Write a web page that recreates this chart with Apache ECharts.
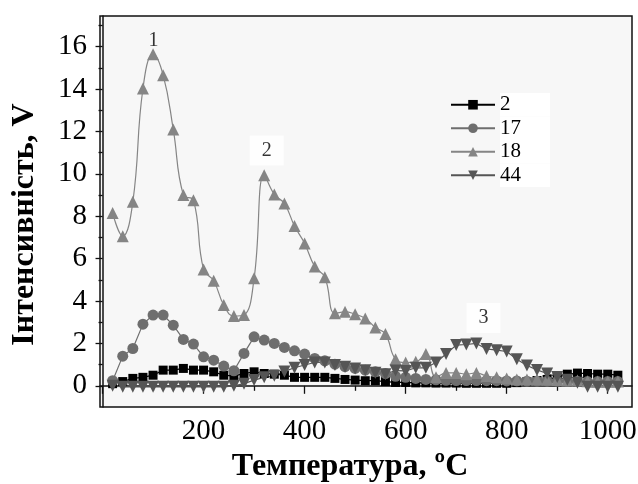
<!DOCTYPE html>
<html>
<head>
<meta charset="utf-8">
<script src="https://cdn.jsdelivr.net/npm/echarts@6/dist/echarts.min.js"></script>
<style>
  html, body { margin: 0; padding: 0; background: #ffffff; }
  #chart { width: 638px; height: 484px; }
</style>
</head>
<body>
<div id="chart"></div>
<script>
// Temperature grid, °C
const temps = [20, 40, 60, 80, 100, 120, 140, 160, 180, 200, 220, 240, 260, 280, 300, 320, 340, 360, 380, 400,
  420, 440, 460, 480, 500, 520, 540, 560, 580, 600, 620, 640, 660, 680, 700, 720, 740, 760, 780, 800,
  820, 840, 860, 880, 900, 920, 940, 960, 980, 1000, 1020];

// Signal intensity, V, per mass number
const m2 = [0.1, 0.2, 0.35, 0.4, 0.5, 0.74, 0.74, 0.82, 0.74, 0.74, 0.66, 0.5, 0.46, 0.58, 0.66, 0.58, 0.55, 0.5, 0.4, 0.4,
  0.4, 0.4, 0.35, 0.3, 0.27, 0.24, 0.24, 0.2, 0.16, 0.16, 0.14, 0.14, 0.13, 0.13, 0.13, 0.12, 0.12, 0.12, 0.12, 0.12,
  0.15, 0.2, 0.25, 0.3, 0.4, 0.55, 0.6, 0.58, 0.55, 0.55, 0.5];
const m17 = [0.24, 1.4, 1.76, 2.91, 3.34, 3.34, 2.86, 2.19, 1.97, 1.37, 1.21, 0.93, 0.71, 1.53, 2.31, 2.16, 2.0, 1.81, 1.65, 1.5,
  1.29, 1.18, 1.02, 0.9, 0.82, 0.74, 0.66, 0.58, 0.45, 0.4, 0.35, 0.3, 0.28, 0.26, 0.25, 0.25, 0.25, 0.24, 0.24, 0.23,
  0.23, 0.22, 0.22, 0.22, 0.21, 0.21, 0.2, 0.2, 0.2, 0.2, 0.2];
const m18 = [8.15, 7.06, 8.68, 14.03, 15.65, 14.66, 12.1, 9.0, 8.76, 5.49, 4.96, 3.81, 3.29, 3.34, 5.07, 9.94, 9.03, 8.6, 7.54, 6.72,
  5.63, 5.12, 3.42, 3.49, 3.38, 3.18, 2.75, 2.44, 1.25, 1.1, 1.13, 1.5, 0.4, 0.61, 0.61, 0.55, 0.61, 0.46, 0.4, 0.35,
  0.3, 0.3, 0.3, 0.28, 0.27, 0.25, 0.25, 0.22, 0.2, 0.2, 0.2];
const m44 = [0.0, -0.05, -0.05, -0.05, -0.05, -0.05, -0.05, -0.05, -0.05, -0.05, -0.05, -0.05, 0.0, 0.1, 0.27, 0.4, 0.47, 0.68, 0.85, 0.98,
  1.1, 1.1, 0.98, 0.9, 0.82, 0.74, 0.62, 0.55, 0.72, 0.7, 0.85, 0.85, 1.1, 1.5, 1.92, 1.95, 2.0, 1.74, 1.68, 1.62,
  1.25, 0.96, 0.75, 0.58, 0.42, 0.28, 0.15, -0.05, -0.05, -0.05, -0.05];

// Axis ticks
const xMajorTicks = [0, 200, 400, 600, 800, 1000];
const xMinorTicks = [100, 300, 500, 700, 900];
const xTickLabels = [200, 400, 600, 800, 1000];
const yMajorTicks = [0, 2, 4, 6, 8, 10, 12, 14, 16];
const yMinorTicks = [1, 3, 5, 7, 9, 11, 13, 15, 17];

// Peak numbers
const peakText = ['1', '2', '3'];
const peakX = [101, 325, 754];
const peakY = [16.3, 11.1, 3.2];
const peakBoxed = [false, true, true];

const pairs = (ys) => temps.map((t, i) => [t, ys[i]]);

const serif = '"Liberation Serif", "Times New Roman", serif';
const X_MIN = -5, X_MAX = 1048, Y_MIN = -1, Y_MAX = 17.45;

const chart = echarts.init(document.getElementById('chart'), null, { renderer: 'canvas' });

function lineSeries(name, ys, color, symbol, size, extra) {
  return Object.assign({
    name: name,
    type: 'line',
    data: pairs(ys),
    symbol: symbol,
    symbolSize: size,
    lineStyle: { color: color, width: 1.2 },
    itemStyle: { color: color },
    animation: false
  }, extra || {});
}

const plainNum = (v) => String(v);

chart.setOption({
  backgroundColor: '#ffffff',
  animation: false,
  grid: {
    left: 100, right: 6, top: 16, bottom: 77,
    outerBoundsMode: 'none',
    containLabel: false,
    show: true,
    backgroundColor: '#f7f7f7',
    borderColor: '#111',
    borderWidth: 1.5
  },
  legend: {
    orient: 'vertical',
    left: 445, top: 88,
    itemWidth: 44, itemHeight: 12,
    itemGap: 0,
    data: ['2', '17', '18', '44'],
    textStyle: {
      fontFamily: serif, fontSize: 21, color: '#000',
      lineHeight: 23.5, backgroundColor: '#ffffff', width: 50
    }
  },
  xAxis: [{
    type: 'value', min: X_MIN, max: X_MAX, position: 'bottom',
    name: 'Температура, ºC',
    nameLocation: 'middle', nameGap: 42,
    nameTextStyle: { fontFamily: serif, fontSize: 32, fontWeight: 'bold', color: '#000', padding: [0, 32, 0, 0] },
    axisLine: { show: true, lineStyle: { color: '#111', width: 1.5 } },
    axisTick: { show: true, inside: false, length: 8, customValues: xMajorTicks, lineStyle: { color: '#111', width: 1.3 } },
    axisLabel: { customValues: xTickLabels, formatter: plainNum, margin: 10, fontFamily: serif, fontSize: 29, color: '#000' },
    splitLine: { show: false }
  }, {
    type: 'value', min: X_MIN, max: X_MAX, position: 'bottom',
    axisLine: { show: false },
    axisTick: { show: true, inside: false, length: 5, customValues: xMinorTicks, lineStyle: { color: '#111', width: 1.3 } },
    axisLabel: { show: false },
    splitLine: { show: false }
  }],
  yAxis: [{
    type: 'value', min: Y_MIN, max: Y_MAX, position: 'left',
    name: 'Інтенсивність, V',
    nameLocation: 'middle', nameGap: 59, nameRotate: 90,
    nameTextStyle: { fontFamily: serif, fontSize: 32, fontWeight: 'bold', color: '#000', padding: [0, 26, 0, 0] },
    axisLine: { show: true, lineStyle: { color: '#111', width: 1.5 } },
    axisTick: { show: true, inside: false, length: 7, customValues: yMajorTicks, lineStyle: { color: '#111', width: 1.3 } },
    axisLabel: { customValues: yMajorTicks, formatter: plainNum, margin: 13, fontFamily: serif, fontSize: 29, color: '#000' },
    splitLine: { show: false }
  }, {
    type: 'value', min: Y_MIN, max: Y_MAX, position: 'left',
    axisLine: { show: false },
    axisTick: { show: true, inside: false, length: 4, customValues: yMinorTicks, lineStyle: { color: '#111', width: 1.3 } },
    axisLabel: { show: false },
    splitLine: { show: false }
  }],
  series: [
    lineSeries('2', m2, '#000000', 'rect', 9),
    lineSeries('17', m17, '#6e6e6e', 'circle', 11),
    lineSeries('18', m18, '#858585', 'triangle', 12, { smooth: 0.45 }),
    lineSeries('44', m44, '#555555', 'triangle', 12, { symbolRotate: 180 }),
    {
      name: 'peaks',
      type: 'scatter',
      data: peakX.map((x, i) => ({
        value: [x, peakY[i], peakText[i]],
        label: peakBoxed[i] ? { backgroundColor: '#ffffff', padding: [6, 12, 4, 12] } : {}
      })),
      symbolSize: 0,
      silent: true,
      label: {
        show: true, position: 'inside',
        formatter: (p) => p.value[2],
        fontFamily: serif, fontSize: 20, color: '#000'
      }
    }
  ]
});
</script>
</body>
</html>
